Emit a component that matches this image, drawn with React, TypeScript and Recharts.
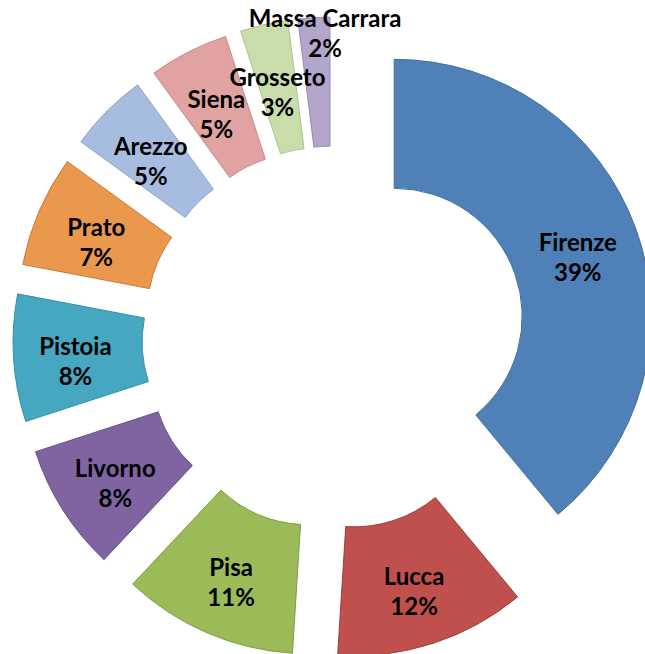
import React from "react";
import { PieChart, Pie, Cell, Sector } from "recharts";

// Province share (%)
const provinces = [
  "Firenze",
  "Lucca",
  "Pisa",
  "Livorno",
  "Pistoia",
  "Prato",
  "Arezzo",
  "Siena",
  "Grosseto",
  "Massa Carrara",
];
const shares = [39, 12, 11, 8, 8, 7, 5, 5, 3, 2];
const colors = [
  "#4F81B8",
  "#C0504D",
  "#9BBB59",
  "#8064A2",
  "#45A7C0",
  "#EB984F",
  "#A7BDE0",
  "#E0A3A1",
  "#C9DDAB",
  "#B4A5CB",
];
const borders = [
  "#3F6E9E",
  "#9E3E3B",
  "#7E9A45",
  "#66508A",
  "#3A8FA6",
  "#C97A36",
  "#8FA6C8",
  "#C48A88",
  "#ADC38E",
  "#9A8BB2",
];

const data = provinces.map((name, i) => ({ name, value: shares[i] }));

const RADIAN = Math.PI / 180;
const EXPLODE = 64;
const FONT = "Lato, 'Open Sans', sans-serif";

// Exploded sector: push each slice out along its mid angle
function ExplodedSector(props: any) {
  const { cx, cy, midAngle } = props;
  const dx = EXPLODE * Math.cos(-midAngle * RADIAN);
  const dy = EXPLODE * Math.sin(-midAngle * RADIAN);
  return <Sector {...props} cx={cx + dx} cy={cy + dy} />;
}

function renderLabel(props: any) {
  const { cx, cy, midAngle, innerRadius, outerRadius, name, percent } = props;
  const cos = Math.cos(-midAngle * RADIAN);
  const sin = Math.sin(-midAngle * RADIAN);
  // tiny slices get their label pushed towards the outer rim
  const small = percent < 0.025;
  const ratio = small ? 0.85 : 0.52;
  const r = innerRadius + (outerRadius - innerRadius) * ratio + EXPLODE;
  const x = cx + r * cos + (small ? 10 : 0);
  const y = cy + r * sin + (small ? -4 : 6);
  return (
    <g style={{ pointerEvents: "none" }}>
      <text
        x={x}
        y={y - 15}
        fill="#000"
        textAnchor="middle"
        dominantBaseline="central"
        fontSize={24}
        fontWeight="700"
        fontFamily={FONT}
      >
        {name}
      </text>
      <text
        x={x}
        y={y + 15}
        fill="#000"
        textAnchor="middle"
        dominantBaseline="central"
        fontSize={24}
        fontWeight="700"
        fontFamily={FONT}
      >
        {Math.round(percent * 100)}%
      </text>
    </g>
  );
}

export default function App() {
  return (
    <div
      style={{
        position: "fixed",
        left: 0,
        top: 0,
        width: 645,
        height: 654,
        overflow: "hidden",
        background: "#fff",
      }}
    >
      <PieChart width={645} height={654} margin={{ top: 0, right: 0, bottom: 0, left: 0 }}>
        <Pie
          data={data}
          dataKey="value"
          nameKey="name"
          cx={334}
          cy={338}
          innerRadius={128}
          outerRadius={257}
          startAngle={90}
          endAngle={-270}
          paddingAngle={0}
          labelLine={false}
          label={renderLabel}
          shape={ExplodedSector}
          activeShape={ExplodedSector}
          inactiveShape={ExplodedSector}
          isAnimationActive={false}
        >
          {data.map((entry, index) => (
            <Cell
              key={`cell-${index}`}
              fill={colors[index]}
              stroke={borders[index]}
              strokeWidth={1}
            />
          ))}
        </Pie>
      </PieChart>
    </div>
  );
}
